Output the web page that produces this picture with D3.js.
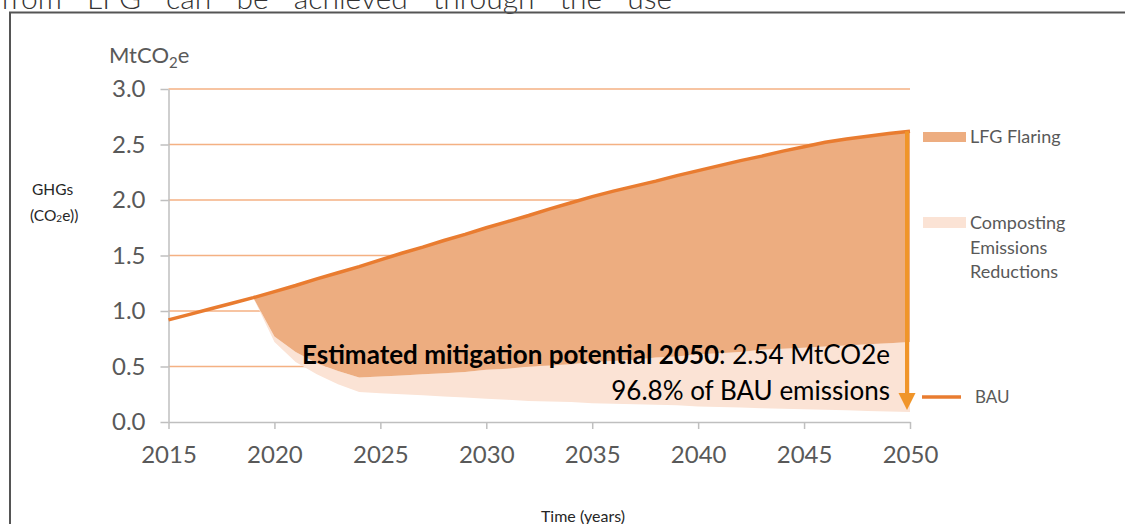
<!DOCTYPE html>
<html>
<head>
<meta charset="utf-8">
<script src="https://cdn.jsdelivr.net/npm/d3@7"></script>
<style>
    body { margin: 0; background: #fff; }
    svg { display: block; font-family: Lato, "Open Sans", sans-serif; }
    .tick text { fill: #595959; font-size: 24px; }
    .axis path, .axis line { stroke: #bfbfbf; stroke-width: 1.5; }
</style>
</head>
<body>
<div id="plot"></div>
<script>
// years for the BAU curve
var years = d3.range(2015, 2051);
// BAU emissions, MtCO2e
var bau = [0.92, 0.97, 1.02, 1.07, 1.12, 1.175, 1.23, 1.29, 1.345, 1.40,
    1.46, 1.52, 1.575, 1.635, 1.69, 1.75, 1.805, 1.86, 1.92, 1.975,
    2.03, 2.08, 2.125, 2.17, 2.22, 2.265, 2.31, 2.355, 2.395, 2.44,
    2.48, 2.52, 2.55, 2.575, 2.60, 2.62];

// scenario years (mitigation starts 2019)
var scenYears = d3.range(2019, 2051);
// emissions left after LFG flaring
var afterFlaring = [1.12, 0.77, 0.63, 0.53, 0.46, 0.40, 0.41, 0.42, 0.43, 0.44,
    0.45, 0.47, 0.48, 0.50, 0.51, 0.52, 0.54, 0.55, 0.56, 0.58,
    0.59, 0.61, 0.62, 0.63, 0.65, 0.66, 0.67, 0.68, 0.69, 0.70,
    0.71, 0.72];
// emissions left after composting as well
var afterComposting = [1.12, 0.72, 0.54, 0.43, 0.34, 0.27, 0.26, 0.25, 0.24, 0.23,
    0.22, 0.21, 0.20, 0.19, 0.185, 0.18, 0.17, 0.165, 0.16, 0.155,
    0.15, 0.14, 0.135, 0.13, 0.125, 0.12, 0.115, 0.11, 0.105, 0.10,
    0.095, 0.09];

var yTicks = [0, 0.5, 1, 1.5, 2, 2.5, 3];
var xTicks = [2015, 2020, 2025, 2030, 2035, 2040, 2045, 2050];

var col = {
    bau: "#e97c30",
    flaring: "#edad80",
    composting: "#fbe3d5",
    grid: "#f4b183",
    arrow: "#f0952a",
    text: "#595959"
};

var width = 1125, height = 524;

var svg = d3.select("#plot").append("svg")
    .attr("width", width)
    .attr("height", height);

// page text cut by the crop + frame
svg.append("text")
    .attr("x", 1).attr("y", 9)
    .attr("font-size", 30).attr("font-weight", 300)
    .attr("word-spacing", 17)
    .attr("fill", "#333")
    .text("from LFG can be achieved through the use");

svg.append("path")
    .attr("d", "M10,530V12.5H1130")
    .attr("fill", "none")
    .attr("stroke", "#555")
    .attr("stroke-width", 2);

var xScale = d3.scaleLinear().domain([2015, 2050]).range([168.5, 910]);
var yScale = d3.scaleLinear().domain([0, 3]).range([422, 89]);

// grid lines
svg.append("g").selectAll("line")
    .data(yTicks.filter(function(d){ return d > 0; }))
    .enter().append("line")
    .attr("x1", xScale(2015)).attr("x2", xScale(2050))
    .attr("y1", function(d){ return yScale(d); })
    .attr("y2", function(d){ return yScale(d); })
    .attr("stroke", col.grid)
    .attr("stroke-width", 1.5);

// areas
var flaringArea = d3.area()
    .x(function(d, i){ return xScale(scenYears[i]); })
    .y0(function(d, i){ return yScale(afterFlaring[i]); })
    .y1(function(d, i){ return yScale(bau[scenYears[i] - 2015]); });

var compostArea = d3.area()
    .x(function(d, i){ return xScale(scenYears[i]); })
    .y0(function(d, i){ return yScale(afterComposting[i]); })
    .y1(function(d, i){ return yScale(afterFlaring[i]); });

svg.append("path").attr("d", compostArea(scenYears)).attr("fill", col.composting);
svg.append("path").attr("d", flaringArea(scenYears)).attr("fill", col.flaring);

// axes
var xAxis = d3.axisBottom(xScale)
    .tickValues(xTicks)
    .tickFormat(d3.format("d"))
    .tickSizeInner(7)
    .tickSizeOuter(0)
    .tickPadding(17);

var yAxis = d3.axisLeft(yScale)
    .tickValues(yTicks)
    .tickFormat(d3.format(".1f"))
    .tickSizeInner(8)
    .tickSizeOuter(0)
    .tickPadding(15);

svg.append("g").attr("class", "axis")
    .attr("transform", "translate(0," + yScale(0) + ")")
    .call(xAxis);

svg.append("g").attr("class", "axis")
    .attr("transform", "translate(" + xScale(2015) + ",0)")
    .call(yAxis);

svg.selectAll(".tick text").attr("font-family", "Lato, sans-serif");

// BAU line
var line = d3.line()
    .x(function(d, i){ return xScale(years[i]); })
    .y(function(d){ return yScale(d); });

svg.append("path")
    .attr("d", line(bau))
    .attr("fill", "none")
    .attr("stroke", col.bau)
    .attr("stroke-width", 3.5);

// mitigation arrow at 2050
var ax = xScale(2050) - 3;
var aTop = yScale(bau[bau.length - 1]);
var aBot = yScale(afterComposting[afterComposting.length - 1]) - 2;
svg.append("line")
    .attr("x1", ax).attr("x2", ax)
    .attr("y1", aTop).attr("y2", aBot - 14)
    .attr("stroke", col.arrow)
    .attr("stroke-width", 4);
svg.append("path")
    .attr("d", "M" + (ax - 8.5) + "," + (aBot - 17) + "L" + (ax + 8.5) + "," + (aBot - 17) + "L" + ax + "," + aBot + "Z")
    .attr("fill", col.arrow);

// annotation
var note = svg.append("text")
    .attr("x", 890).attr("y", 364)
    .attr("text-anchor", "end")
    .attr("font-size", 26)
    .attr("fill", "#000");
note.append("tspan").attr("font-weight", "bold").text("Estimated mitigation potential 2050");
note.append("tspan").text(": 2.54 MtCO2e");

svg.append("text")
    .attr("x", 890).attr("y", 400)
    .attr("text-anchor", "end")
    .attr("font-size", 26)
    .attr("fill", "#000")
    .text("96.8% of BAU emissions");

// axis titles
var unit = svg.append("text")
    .attr("x", 109).attr("y", 63)
    .attr("font-size", 22)
    .attr("fill", col.text);
unit.append("tspan").text("MtCO");
unit.append("tspan").attr("font-size", 15).attr("dy", 5).text("2");
unit.append("tspan").attr("dy", -5).text("e");

svg.append("text")
    .attr("x", 32).attr("y", 195)
    .attr("font-size", 15.5)
    .attr("fill", "#262626")
    .text("GHGs");
var ghg = svg.append("text")
    .attr("x", 30).attr("y", 221)
    .attr("font-size", 15.5)
    .attr("fill", "#262626");
ghg.append("tspan").text("(CO");
ghg.append("tspan").attr("font-size", 10).attr("dy", 1).text("2");
ghg.append("tspan").attr("dy", -1).text("e))");

svg.append("text")
    .attr("x", 583).attr("y", 522)
    .attr("text-anchor", "middle")
    .attr("font-size", 16)
    .attr("fill", "#262626")
    .text("Time (years)");

// legend
var legend = svg.append("g").attr("font-size", 18).attr("fill", col.text);
legend.append("rect").attr("x", 923).attr("y", 132).attr("width", 43).attr("height", 10).attr("fill", col.flaring);
legend.append("text").attr("x", 970).attr("y", 143).text("LFG Flaring");
legend.append("rect").attr("x", 923).attr("y", 217).attr("width", 43).attr("height", 11).attr("fill", col.composting);
["Composting", "Emissions", "Reductions"].forEach(function(t, i){
    legend.append("text").attr("x", 970).attr("y", 229 + i * 24.5).text(t);
});
legend.append("line").attr("x1", 922).attr("x2", 961).attr("y1", 397).attr("y2", 397)
    .attr("stroke", col.bau).attr("stroke-width", 3.5);
legend.append("text").attr("x", 975).attr("y", 403).attr("font-size", 17).text("BAU");
</script>
</body>
</html>
